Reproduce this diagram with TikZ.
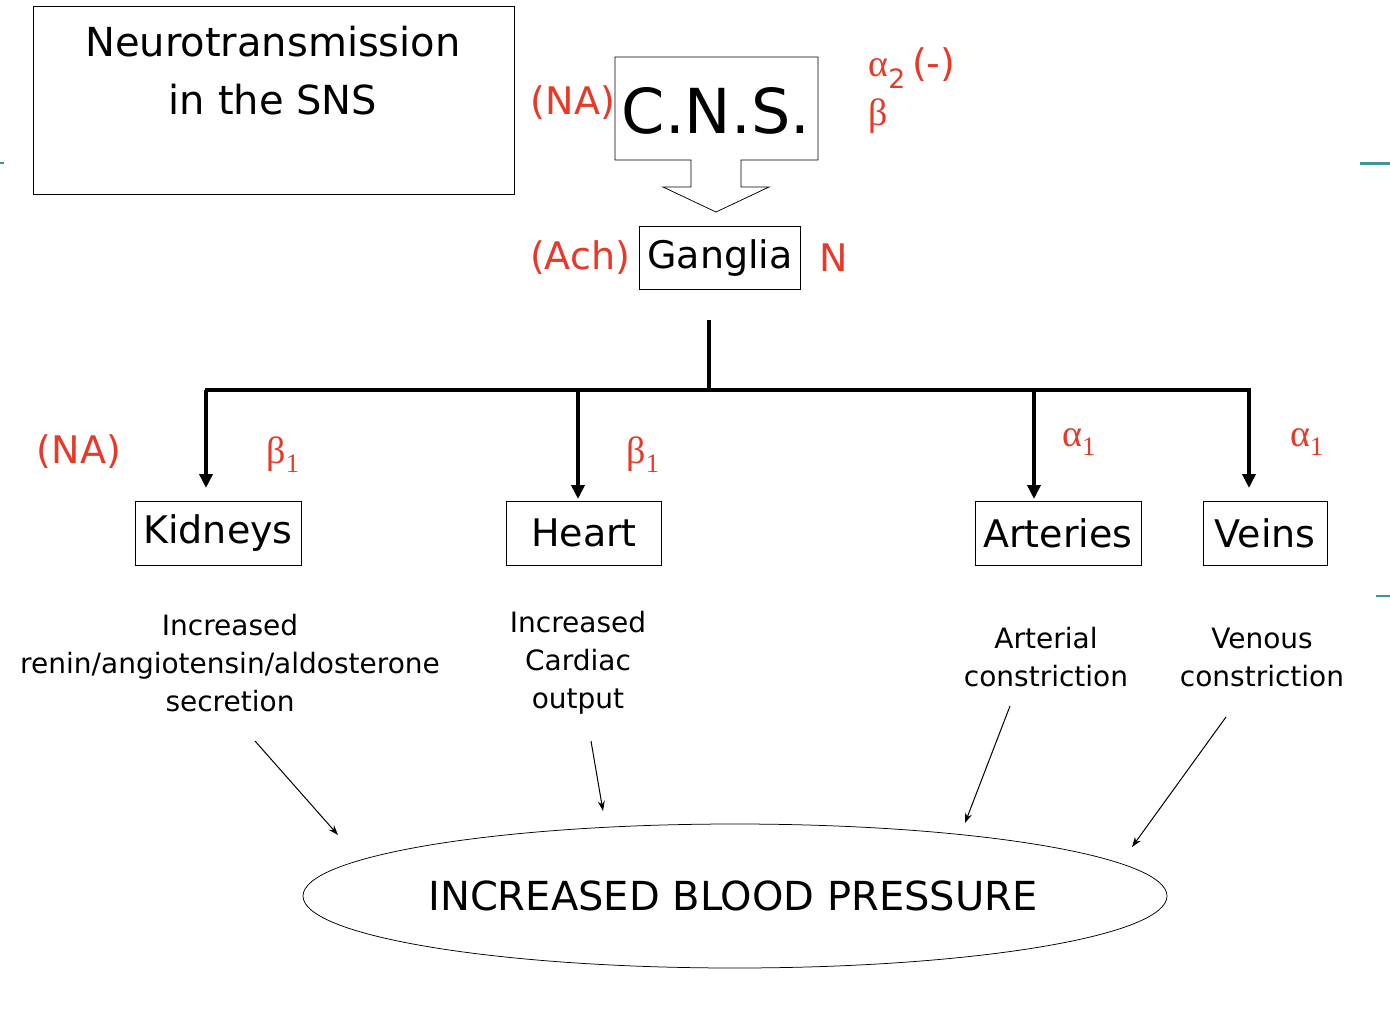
\documentclass[tikz,border=0pt]{standalone}
\usepackage{fontspec}
\setmainfont{DejaVu Sans}
\newfontfamily\greekfont{Liberation Serif}
\usetikzlibrary{arrows.meta}
\definecolor{lblred}{RGB}{232,56,40}
\definecolor{slideteal}{RGB}{60,150,150}
\tikzset{every picture/.style={line width=0.75pt}}
\tikzset{
  organ/.style={draw, inner sep=6pt, font=\fontsize{38}{40}\selectfont},
  effect/.style={align=center, font=\fontsize{28}{38}\selectfont},
  recep/.style={text=lblred, font=\fontsize{38}{40}\selectfont},
  thick arr/.style={line width=3.5pt, -{Triangle[length=14pt,width=13pt]}},
  thin arr/.style={line width=1pt, -{Stealth[length=10pt,width=7pt]}}
}

\begin{document}
\begin{tikzpicture}[x=1pt,y=1pt,yscale=-1,xscale=1]
\useasboundingbox (0,0) rectangle (1390,1012);

%slide marks
\draw [slideteal, line width=2pt] (0,163) -- (4,163);
\draw [slideteal, line width=3pt] (1360,163) -- (1390,163);
\draw [slideteal, line width=2pt] (1376,596) -- (1390,596);

%Title box
\draw (33,6) rectangle (514,194);
\node (title) at (273,71) [align=center, font=\fontsize{40}{58}\selectfont] {Neurotransmission\\in the SNS};

%C.N.S. with arrow
\draw (691,160) -- (615,160) -- (615,57) -- (818,57) -- (818,160) -- (741,160)
  -- (741,187) -- (769,187) -- (716,212) -- (663,187) -- (691,187) -- cycle;
\node (cns) at (716,111) [font=\fontsize{62}{64}\selectfont] {C.N.S.};
\node (cnsNA) at (573,103) [recep] {(NA)};
\node (cnsA) at (912,68) [recep] {{\greekfont α}\textsubscript{2}\,(-)};
\node (cnsB) at (878,116) [recep, font=\fontsize{38}{40}\greekfont] {β};

%Ganglia
\node (gang) at (720,258) [organ, minimum width=161pt, minimum height=63pt, inner sep=0pt] {Ganglia};
\node (gangAch) at (580,258) [recep] {(Ach)};
\node (gangN) at (834,258) [recep] {N};

%tree
\coordinate (top) at (709,320);
\coordinate (mid) at (709,390);
\draw [line width=4.5pt] (top) -- (mid);
\draw [line width=4.5pt] (205,390) -- (1251,390);

%organs
\node (kid) at (218,533) [organ, minimum width=166pt, minimum height=64pt, inner sep=0pt] {Kidneys};
\node (heart) at (584,533) [organ, minimum width=155pt, minimum height=64pt, inner sep=0pt] {Heart};
\node (art) at (1058,533) [organ, minimum width=166pt, minimum height=64pt, inner sep=0pt] {Arteries};
\node (vein) at (1265,533) [organ, minimum width=124pt, minimum height=64pt, inner sep=0pt] {Veins};

\draw [thick arr] (206,390) -- (206,488);
\draw [thick arr] (578,390) -- (578,499);
\draw [thick arr] (1034,390) -- (1034,499);
\draw [thick arr] (1249,390) -- (1249,488);

\node (kidNA) at (79,452) [recep] {(NA)};
\node (kidB) at (283,455) [recep, font=\fontsize{38}{40}\greekfont] {β\textsubscript{1}};
\node (heartB) at (643,455) [recep, font=\fontsize{38}{40}\greekfont] {β\textsubscript{1}};
\node (artA) at (1079,442) [recep, font=\fontsize{38}{40}\greekfont] {α\textsubscript{1}};
\node (veinA) at (1307,442) [recep, font=\fontsize{38}{40}\greekfont] {α\textsubscript{1}};

%effects
\node (kidE) at (230,663) [effect] {Increased\\renin/angiotensin/aldosterone\\secretion};
\node (heartE) at (578,663) [effect] {Increased\\Cardiac\\output};
\node (artE) at (1046,657) [effect] {Arterial\\constriction};
\node (veinE) at (1262,657) [effect] {Venous\\constriction};

%outcome
\draw (735,896) ellipse [x radius=432, y radius=72];
\node (bp) at (733,896) [font=\fontsize{40}{42}\selectfont] {INCREASED BLOOD PRESSURE};

\draw [thin arr] (255,741) -- (338,835);
\draw [thin arr] (591,741) -- (603,811);
\draw [thin arr] (1010,706) -- (965,823);
\draw [thin arr] (1226,717) -- (1132,847);

\end{tikzpicture}
\end{document}
